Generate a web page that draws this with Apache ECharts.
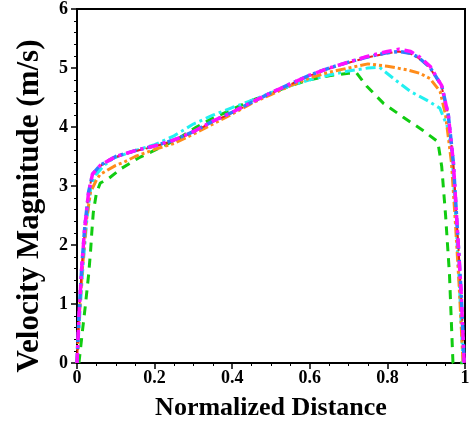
<!DOCTYPE html>
<html><head><meta charset="utf-8">
<script src="https://cdn.jsdelivr.net/npm/echarts@6/dist/echarts.min.js"></script>
<style>html,body{margin:0;padding:0;background:#fff}#c{width:474px;height:421px}</style>
</head><body><div id="c"></div>
<script>
var xTicks = [0, 0.2, 0.4, 0.6, 0.8, 1];
var yTicks = [0, 1, 2, 3, 4, 5, 6];
var xTitle = 'Normalized Distance';
var yTitle = 'Velocity Magnitude (m/s)';

var greenX = [0.005,0.015,0.022,0.03,0.035,0.038,0.042,0.05,0.06,0.08,0.115,0.16,0.214,0.26,0.308,0.35,0.4,0.454,0.505,0.55,0.6,0.65,0.7,0.72,0.747,0.79,0.84,0.89,0.93,0.94,0.95,0.96,0.969,0.995];
var greenY = [0,0.6,1.0,1.5,1.9,2.2,2.55,2.88,3.05,3.12,3.3,3.48,3.65,3.8,4.0,4.15,4.3,4.46,4.58,4.7,4.8,4.87,4.91,4.92,4.69,4.4,4.17,3.95,3.75,3.33,2.5,1.5,0,0];

var cyanX = [0,0.007,0.015,0.025,0.035,0.05,0.07,0.093,0.15,0.2,0.25,0.3,0.35,0.4,0.45,0.5,0.55,0.6,0.65,0.7,0.75,0.78,0.82,0.86,0.9,0.935,0.955,0.966,0.975,0.985,0.995];
var cyanY = [0,0.8,1.6,2.4,2.95,3.2,3.35,3.47,3.6,3.7,3.85,4.05,4.2,4.33,4.45,4.58,4.7,4.8,4.88,4.95,5.0,5.01,4.8,4.6,4.46,4.32,4.0,3.6,2.6,1.4,0];

var orangeX = [0,0.006,0.014,0.024,0.035,0.05,0.06,0.1,0.12,0.15,0.2,0.25,0.3,0.35,0.4,0.45,0.5,0.55,0.6,0.65,0.7,0.75,0.8,0.85,0.884,0.91,0.936,0.95,0.965,0.975,0.985,0.995];
var orangeY = [0,0.8,1.6,2.4,2.9,3.1,3.2,3.35,3.4,3.5,3.62,3.72,3.88,4.05,4.22,4.4,4.55,4.7,4.83,4.93,5.0,5.07,5.03,4.97,4.91,4.82,4.6,4.2,3.4,2.4,1.3,0];

var redX = [0,0.005,0.012,0.02,0.03,0.04,0.06,0.1,0.15,0.2,0.25,0.3,0.35,0.4,0.45,0.5,0.55,0.6,0.65,0.7,0.75,0.8,0.83,0.86,0.88,0.91,0.94,0.957,0.97,0.98,0.99,0.998];
var redY = [0,0.8,1.6,2.3,2.9,3.2,3.34,3.49,3.59,3.67,3.77,3.91,4.09,4.24,4.41,4.57,4.72,4.87,4.99,5.09,5.18,5.25,5.28,5.24,5.17,5.0,4.68,4.2,3.4,2.3,1.2,0];

var blueX = [0,0.005,0.012,0.02,0.03,0.04,0.06,0.1,0.15,0.2,0.25,0.3,0.35,0.4,0.45,0.5,0.55,0.6,0.65,0.7,0.75,0.8,0.83,0.86,0.88,0.91,0.94,0.957,0.97,0.98,0.99,0.998];
var blueY = [0,0.8,1.6,2.3,2.9,3.2,3.35,3.5,3.6,3.68,3.78,3.92,4.1,4.25,4.42,4.58,4.73,4.88,5.0,5.1,5.19,5.26,5.28,5.25,5.18,5.01,4.7,4.2,3.4,2.3,1.2,0];

var magentaX = [0,0.005,0.012,0.02,0.03,0.04,0.06,0.1,0.15,0.2,0.25,0.3,0.35,0.4,0.45,0.5,0.55,0.6,0.65,0.7,0.75,0.8,0.83,0.86,0.88,0.91,0.94,0.957,0.97,0.98,0.99,0.998];
var magentaY = [0,0.8,1.6,2.3,2.9,3.2,3.35,3.5,3.6,3.68,3.78,3.92,4.1,4.25,4.42,4.58,4.73,4.88,5.0,5.1,5.2,5.28,5.32,5.28,5.2,5.03,4.7,4.2,3.4,2.3,1.2,0];

function pairs(xs, ys){ return xs.map(function(x,i){ return [x, ys[i]]; }); }

var font = '"Liberation Serif","Times New Roman",serif';
function line(name, xs, ys, color, dash, w){
  return {name:name, type:'line', data:pairs(xs,ys), showSymbol:false, symbol:'none', animation:false,
    lineStyle:{color:color, width:w||3, type:dash}, z:2};
}

var chart = echarts.init(document.getElementById('c'), null, {renderer:'canvas'});
chart.setOption({
  animation:false,
  grid:{left:77, right:9, top:9, bottom:58, show:true, borderColor:'#000', borderWidth:2, backgroundColor:'transparent',
    containLabel:false, outerBoundsMode:'none'},
  graphic:[{type:'text', x:30, y:206, rotation:Math.PI/2, silent:true,
    style:{text:yTitle, font:'bold 31px ' + font, fill:'#000', align:'center', verticalAlign:'middle'}}],
  xAxis:{type:'value', min:xTicks[0], max:xTicks[xTicks.length-1], interval:0.2,
    name:xTitle, nameLocation:'middle', nameGap:32,
    nameTextStyle:{fontFamily:font, fontWeight:'bold', fontSize:26, color:'#000'},
    axisLine:{show:true, lineStyle:{color:'#000', width:2}},
    axisTick:{show:true, inside:false, length:6, lineStyle:{color:'#000', width:1.5}},
    minorTick:{show:true, splitNumber:4, length:3, lineStyle:{color:'#000', width:1}},
    splitLine:{show:false},
    axisLabel:{fontFamily:font, fontWeight:'bold', fontSize:18, color:'#000', margin:6,
      formatter:function(v){ return String(+v.toFixed(1)); }}},
  yAxis:{type:'value', min:yTicks[0], max:yTicks[yTicks.length-1], interval:1,
    axisLine:{show:true, lineStyle:{color:'#000', width:2}},
    axisTick:{show:true, inside:false, length:6, lineStyle:{color:'#000', width:1.5}},
    minorTick:{show:true, splitNumber:5, length:3, lineStyle:{color:'#000', width:1}},
    splitLine:{show:false},
    axisLabel:{fontFamily:font, fontWeight:'bold', fontSize:18, color:'#000', margin:9}},
  series:[
    line('green', greenX, greenY, '#11cc11', [9,7], 3),
    line('cyan', cyanX, cyanY, '#22f0f0', [10,4,3,4], 3),
    line('orange', orangeX, orangeY, '#ff8c1a', [10,3,3,3,3,3], 3),
    line('red', redX, redY, '#e8201a', [6,4], 2),
    line('blue', blueX, blueY, '#2f7cff', [10,4,3,4], 3.5),
    line('magenta', magentaX, magentaY, '#ff10ff', [10,5,3,5], 3.5)
  ]
});
</script></body></html>
